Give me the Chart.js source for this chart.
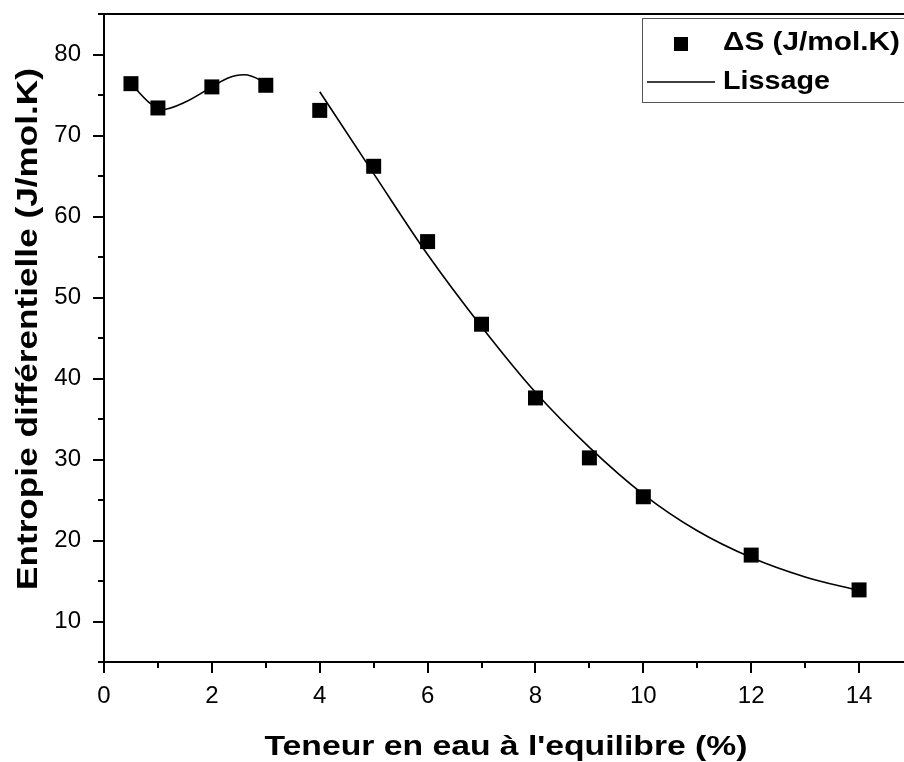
<!DOCTYPE html>
<html><head><meta charset="utf-8">
<script src="https://cdn.jsdelivr.net/npm/chart.js@4/dist/chart.umd.min.js"></script>
<style>
html,body{margin:0;padding:0;background:#fff;overflow:hidden;width:904px;height:762px;}
#wrap{position:absolute;left:0;top:0;width:930px;height:762px;}
</style></head><body>
<div id="wrap"><canvas id="c" width="930" height="762"></canvas></div>
<script>
// ---- data ----
const moisture = [0.5, 1, 2, 3, 4, 5, 6, 7, 8, 9, 10, 12, 14];
const entropy  = [76.4, 73.4, 76.0, 76.2, 73.1, 66.2, 56.9, 46.7, 37.6, 30.2, 25.4, 18.2, 13.9];
// smoothing curve ("Lissage")
const fitLowX  = [0.5, 0.85, 1.07, 1.53, 2.0, 2.3, 2.59, 2.9, 3.0];
const fitLowY  = [76.4, 74.0, 73.2, 74.2, 76.0, 77.1, 77.5, 76.8, 76.2];
const fitHighX = [4, 5, 6, 7, 8, 9, 10, 11, 12, 13, 14];
const fitHighY = [75.4, 65.3, 55.3, 46.4, 38.3, 31.5, 25.7, 21.2, 17.9, 15.5, 13.8];
const xMajorTicks = [0, 2, 4, 6, 8, 10, 12, 14];
const xMinorTicks = [1, 3, 5, 7, 9, 11, 13, 15];
const yMajorTicks = [10, 20, 30, 40, 50, 60, 70, 80];
const yMinorTicks = [5, 15, 25, 35, 45, 55, 65, 75, 85];
const seriesLabel = 'ΔS (J/mol.K)';
const fitLabel = 'Lissage';
const xTitle = "Teneur en eau à l'equilibre (%)";
const yTitle = 'Entropie différentielle (J/mol.K)';

const FONT = "'Liberation Sans', Arial, sans-serif";
const toPts = (xs, ys) => xs.map((x, i) => ({x: x, y: ys[i]}));

function stretchedText(ctx, text, x, y, rot, font, targetW, align) {
  ctx.save();
  ctx.font = font;
  const w = ctx.measureText(text).width;
  ctx.translate(x, y);
  if (rot) ctx.rotate(rot);
  ctx.scale(targetW / w, 1);
  ctx.textAlign = align;
  ctx.textBaseline = 'alphabetic';
  ctx.fillStyle = '#000';
  ctx.fillText(text, 0, 0);
  ctx.restore();
}

const decor = {
  id: 'decor',
  afterDraw(chart) {
    const ctx = chart.ctx;
    const a = chart.chartArea;
    const xs = chart.scales.x, ys = chart.scales.y;
    ctx.save();
    ctx.strokeStyle = '#000';
    ctx.lineWidth = 2;
    ctx.lineCap = 'butt';
    ctx.beginPath();
    // top frame line
    ctx.moveTo(a.left - 1, a.top); ctx.lineTo(a.right + 1, a.top);
    ctx.moveTo(a.right, a.top); ctx.lineTo(a.right, a.bottom);
    // x ticks
    xMajorTicks.forEach(v => { const p = Math.round(xs.getPixelForValue(v)); ctx.moveTo(p, a.bottom); ctx.lineTo(p, a.bottom + 11); });
    xMinorTicks.forEach(v => { const p = Math.round(xs.getPixelForValue(v)); ctx.moveTo(p, a.bottom); ctx.lineTo(p, a.bottom + 6); });
    // y ticks
    yMajorTicks.forEach(v => { const p = Math.round(ys.getPixelForValue(v)); ctx.moveTo(a.left, p); ctx.lineTo(a.left - 11, p); });
    yMinorTicks.forEach(v => { const p = Math.round(ys.getPixelForValue(v)); ctx.moveTo(a.left, p); ctx.lineTo(a.left - 6, p); });
    ctx.stroke();
    ctx.restore();

    // axis titles
    stretchedText(ctx, xTitle, 506, 755, 0, "bold 28px " + FONT, 483, 'center');
    stretchedText(ctx, yTitle, 37, 329, -Math.PI / 2, "bold 30px " + FONT, 522, 'center');

    // legend
    ctx.save();
    ctx.fillStyle = '#fff';
    ctx.fillRect(642, 18, 400, 85);
    ctx.strokeStyle = '#555';
    ctx.lineWidth = 1;
    ctx.strokeRect(642.5, 18.5, 400, 84);
    ctx.fillStyle = '#000';
    ctx.fillRect(674, 37, 14, 14);
    ctx.strokeStyle = '#000';
    ctx.lineWidth = 1.6;
    ctx.beginPath(); ctx.moveTo(647, 82); ctx.lineTo(715, 82); ctx.stroke();
    ctx.restore();
    stretchedText(ctx, seriesLabel, 723, 50, 0, "bold 26px " + FONT, 177, 'left');
    stretchedText(ctx, fitLabel, 723, 88.5, 0, "bold 26px " + FONT, 107, 'left');
  }
};

const lineStyle = {showLine: true, borderColor: '#000', backgroundColor: '#000', borderWidth: 1.6,
  pointRadius: 0, pointHoverRadius: 0, cubicInterpolationMode: 'monotone', fill: false};

new Chart(document.getElementById('c'), {
  type: 'scatter',
  data: {
    datasets: [
      Object.assign({label: fitLabel, data: toPts(fitLowX, fitLowY), order: 2}, lineStyle),
      Object.assign({label: fitLabel + ' ', data: toPts(fitHighX, fitHighY), order: 2}, lineStyle),
      {label: seriesLabel, data: toPts(moisture, entropy), pointStyle: 'rect', pointRadius: 10.6,
       pointHoverRadius: 10.6, backgroundColor: '#000', borderColor: '#000', borderWidth: 0,
       showLine: false, order: 1}
    ]
  },
  options: {
    responsive: false, animation: false, devicePixelRatio: 1,
    layout: {padding: {top: 14, right: 17, left: 0, bottom: 0}},
    plugins: {legend: {display: false}, tooltip: {enabled: false}},
    scales: {
      x: {
        type: 'linear', min: 0, max: 15,
        afterFit(s) { s.height = 100; s.paddingLeft = 0; s.paddingRight = 0; s.paddingTop = 0; s.paddingBottom = 0; },
        afterBuildTicks(s) { s.ticks = xMajorTicks.map(v => ({value: v})); },
        grid: {display: false, drawTicks: false},
        border: {display: true, color: '#000', width: 2},
        ticks: {autoSkip: false, maxRotation: 0, color: '#000', padding: 20,
                font: {family: FONT, size: 24}, callback: v => String(v)}
      },
      y: {
        type: 'linear', min: 5, max: 85,
        afterFit(s) { s.width = 104; s.paddingLeft = 0; s.paddingRight = 0; s.paddingTop = 0; s.paddingBottom = 0; },
        afterBuildTicks(s) { s.ticks = yMajorTicks.map(v => ({value: v})); },
        grid: {display: false, drawTicks: false},
        border: {display: true, color: '#000', width: 2},
        ticks: {autoSkip: false, color: '#000', padding: 23,
                font: {family: FONT, size: 24}, callback: v => String(v)}
      }
    }
  },
  plugins: [decor]
});
</script>
</body></html>
